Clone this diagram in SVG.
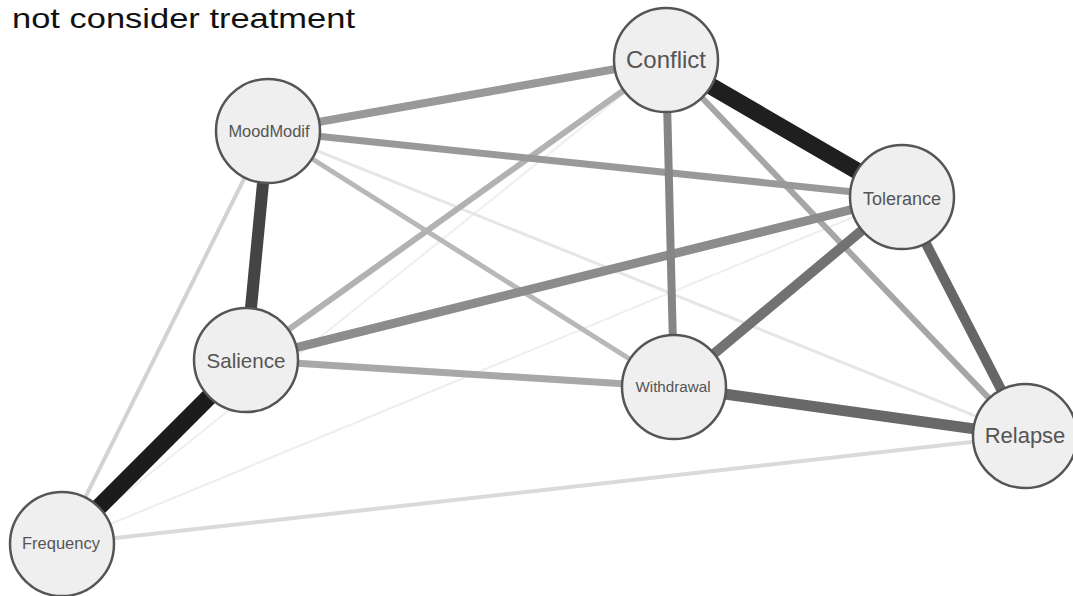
<svg xmlns="http://www.w3.org/2000/svg" width="1073" height="596" viewBox="0 0 1073 596">
<style>
.e{fill:none;stroke-linecap:butt}
.n circle{fill:#efefef;stroke:#555;stroke-width:2.5}
.n text{font-family:"Liberation Sans",Arial,sans-serif;fill:#555;text-anchor:middle}
.title{font-family:"Liberation Sans",Arial,sans-serif;fill:#111;font-size:28px}
</style>
<rect width="1073" height="596" fill="#fff"/>
<text class="title" x="12" y="28" textLength="343" lengthAdjust="spacingAndGlyphs">not consider treatment</text>
<g id="edges">
<line class="e" x1="62" y1="544" x2="666" y2="60" stroke="#efefef" stroke-width="2"/>
<line class="e" x1="62" y1="544" x2="902" y2="197" stroke="#eeeeee" stroke-width="2"/>
<line class="e" x1="268" y1="131" x2="1025" y2="436" stroke="#e6e6e6" stroke-width="3"/>
<line class="e" x1="62" y1="544" x2="1025" y2="436" stroke="#dadada" stroke-width="4"/>
<line class="e" x1="268" y1="131" x2="62" y2="544" stroke="#d2d2d2" stroke-width="4"/>
<line class="e" x1="268" y1="131" x2="674" y2="387" stroke="#b8b8b8" stroke-width="5"/>
<line class="e" x1="246" y1="360" x2="666" y2="60" stroke="#b2b2b2" stroke-width="6"/>
<line class="e" x1="666" y1="60" x2="1025" y2="436" stroke="#a6a6a6" stroke-width="6"/>
<line class="e" x1="246" y1="360" x2="674" y2="387" stroke="#a8a8a8" stroke-width="7"/>
<line class="e" x1="268" y1="131" x2="902" y2="197" stroke="#999" stroke-width="7"/>
<line class="e" x1="268" y1="131" x2="666" y2="60" stroke="#999" stroke-width="8"/>
<line class="e" x1="246" y1="360" x2="902" y2="197" stroke="#8c8c8c" stroke-width="9"/>
<line class="e" x1="666" y1="60" x2="674" y2="387" stroke="#858585" stroke-width="8"/>
<line class="e" x1="902" y1="197" x2="674" y2="387" stroke="#727272" stroke-width="10"/>
<line class="e" x1="674" y1="387" x2="1025" y2="436" stroke="#686868" stroke-width="11"/>
<line class="e" x1="902" y1="197" x2="1025" y2="436" stroke="#666" stroke-width="10"/>
<line class="e" x1="268" y1="131" x2="246" y2="360" stroke="#444" stroke-width="12"/>
<line class="e" x1="246" y1="360" x2="62" y2="544" stroke="#1c1c1c" stroke-width="17"/>
<line class="e" x1="666" y1="60" x2="902" y2="197" stroke="#1f1f1f" stroke-width="17"/>
</g>
<g id="node-conflict" class="n"><circle cx="666" cy="60" r="52"/><text x="666" y="68" font-size="24">Conflict</text></g>
<g id="node-moodmodif" class="n"><circle cx="268" cy="131" r="52"/><text x="269" y="137" font-size="16.4">MoodModif</text></g>
<g id="node-tolerance" class="n"><circle cx="902" cy="197" r="52"/><text x="902" y="205" font-size="18">Tolerance</text></g>
<g id="node-salience" class="n"><circle cx="246" cy="360" r="52"/><text x="246" y="368" font-size="20.6">Salience</text></g>
<g id="node-withdrawal" class="n"><circle cx="674" cy="387" r="52"/><text x="673" y="392" font-size="15.2">Withdrawal</text></g>
<g id="node-relapse" class="n"><circle cx="1025" cy="436" r="52"/><text x="1025" y="443" font-size="22">Relapse</text></g>
<g id="node-frequency" class="n"><circle cx="62" cy="544" r="52"/><text x="61" y="549" font-size="16.5">Frequency</text></g>
</svg>
